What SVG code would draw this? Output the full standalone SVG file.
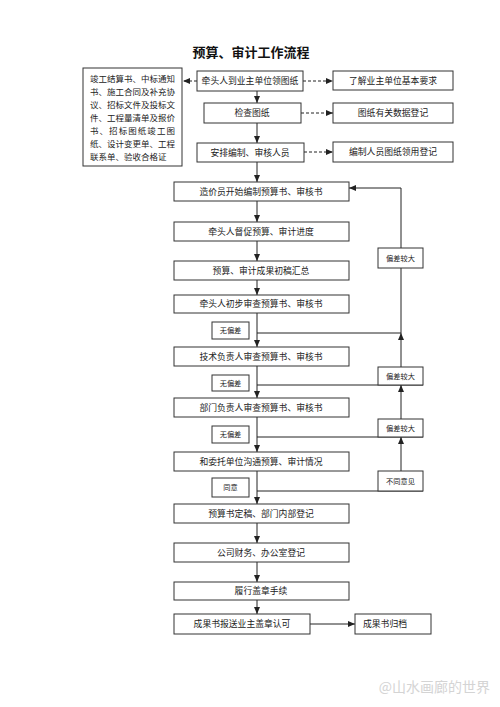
<svg xmlns="http://www.w3.org/2000/svg" width="500" height="707" viewBox="0 0 500 707">
<style>
.b{fill:#fff;stroke:#333;stroke-width:1}
.t{font-family:"Noto Sans CJK SC","Noto Sans",sans-serif;font-size:8.8px;fill:#222;text-anchor:middle}
.s{font-family:"Noto Sans CJK SC","Noto Sans",sans-serif;font-size:7.2px;fill:#222;text-anchor:middle}
.l{font-family:"Noto Sans CJK SC","Noto Sans",sans-serif;font-size:8.5px;fill:#222}
.c{fill:none;stroke:#222;stroke-width:1}
.d{fill:none;stroke:#222;stroke-width:1;stroke-dasharray:3,2}
</style>
<defs>
<marker id="a" markerUnits="userSpaceOnUse" markerWidth="7" markerHeight="6" refX="7" refY="3" orient="auto"><path d="M0,0 L7,3 L0,6 z" fill="#222"/></marker>
</defs>
<rect width="500" height="707" fill="#fff"/>
<text x="251" y="57" style="font-family:'Noto Sans CJK SC',sans-serif;font-size:13px;font-weight:bold;text-anchor:middle;fill:#111">预算、审计工作流程</text>
<g id="connectors">
<path class="d" d="M197,81 H183" marker-end="url(#a)"/>
<path class="d" d="M303,81 H333" marker-end="url(#a)"/>
<path class="d" d="M301,113 H333" marker-end="url(#a)"/>
<path class="d" d="M304,152 H333" marker-end="url(#a)"/>
<path class="c" d="M257,91 V103" marker-end="url(#a)"/>
<path class="c" d="M257,123 V143" marker-end="url(#a)"/>
<path class="c" d="M257,162 V182" marker-end="url(#a)"/>
<path class="c" d="M257,201 V222" marker-end="url(#a)"/>
<path class="c" d="M257,241 V261" marker-end="url(#a)"/>
<path class="c" d="M257,280 V295" marker-end="url(#a)"/>
<path class="c" d="M257,313 V347" marker-end="url(#a)"/>
<path class="c" d="M257,366 V398" marker-end="url(#a)"/>
<path class="c" d="M257,417 V452" marker-end="url(#a)"/>
<path class="c" d="M257,471 V504" marker-end="url(#a)"/>
<path class="c" d="M257,523 V543" marker-end="url(#a)"/>
<path class="c" d="M257,562 V582" marker-end="url(#a)"/>
<path class="c" d="M257,600 V614" marker-end="url(#a)"/>
<path class="c" d="M310,624 H355" marker-end="url(#a)"/>
<path class="c" d="M257,333 H401 V188 H349" marker-end="url(#a)"/>
<path class="c" d="M257,385 H423"/>
<path class="c" d="M401,367 V333" marker-end="url(#a)"/>
<path class="c" d="M257,437 H423"/>
<path class="c" d="M401,419 V385" marker-end="url(#a)"/>
<path class="c" d="M257,491 H423"/>
<path class="c" d="M401,471 V437" marker-end="url(#a)"/>
</g>
<g id="docs"><rect class="b" x="83" y="68" width="99" height="98"/>
<text class="l" x="90" y="82" textLength="85" lengthAdjust="spacing">竣工结算书、中标通知</text>
<text class="l" x="90" y="95" textLength="85" lengthAdjust="spacing">书、施工合同及补充协</text>
<text class="l" x="90" y="108" textLength="85" lengthAdjust="spacing">议、招标文件及投标文</text>
<text class="l" x="90" y="121" textLength="85" lengthAdjust="spacing">件、工程量清单及报价</text>
<text class="l" x="90" y="134" textLength="85" lengthAdjust="spacing">书、招标图纸竣工图</text>
<text class="l" x="90" y="147" textLength="85" lengthAdjust="spacing">纸、设计变更单、工程</text>
<text class="l" x="90" y="160">联系单、验收合格证</text></g>
<g id="n1"><rect class="b" x="197" y="71" width="106" height="20"/><text class="t" x="250" y="84">牵头人到业主单位领图纸</text></g>
<g id="r1"><rect class="b" x="333" y="71" width="120" height="19"/><text class="t" x="393" y="84">了解业主单位基本要求</text></g>
<g id="n2"><rect class="b" x="204" y="103" width="97" height="20"/><text class="t" x="252" y="116">检查图纸</text></g>
<g id="r2"><rect class="b" x="333" y="103" width="120" height="20"/><text class="t" x="393" y="116">图纸有关数据登记</text></g>
<g id="n3"><rect class="b" x="197" y="143" width="107" height="19"/><text class="t" x="250" y="156">安排编制、审核人员</text></g>
<g id="r3"><rect class="b" x="333" y="142" width="120" height="20"/><text class="t" x="393" y="155">编制人员图纸领用登记</text></g>
<g id="m1"><rect class="b" x="174" y="182" width="175" height="19"/><text class="t" x="261" y="195">造价员开始编制预算书、审核书</text></g>
<g id="m2"><rect class="b" x="174" y="222" width="175" height="19"/><text class="t" x="261" y="235">牵头人督促预算、审计进度</text></g>
<g id="m3"><rect class="b" x="174" y="261" width="175" height="19"/><text class="t" x="261" y="274">预算、审计成果初稿汇总</text></g>
<g id="m4"><rect class="b" x="174" y="295" width="175" height="18"/><text class="t" x="261" y="307">牵头人初步审查预算书、审核书</text></g>
<g id="m5"><rect class="b" x="174" y="347" width="175" height="19"/><text class="t" x="261" y="360">技术负责人审查预算书、审核书</text></g>
<g id="m6"><rect class="b" x="174" y="398" width="175" height="19"/><text class="t" x="261" y="411">部门负责人审查预算书、审核书</text></g>
<g id="m7"><rect class="b" x="174" y="452" width="175" height="19"/><text class="t" x="261" y="465">和委托单位沟通预算、审计情况</text></g>
<g id="m8"><rect class="b" x="174" y="504" width="175" height="19"/><text class="t" x="261" y="517">预算书定稿、部门内部登记</text></g>
<g id="m9"><rect class="b" x="174" y="543" width="175" height="19"/><text class="t" x="261" y="556">公司财务、办公室登记</text></g>
<g id="m10"><rect class="b" x="174" y="582" width="175" height="18"/><text class="t" x="261" y="594">履行盖章手续</text></g>
<g id="m11"><rect class="b" x="174" y="614" width="136" height="20"/><text class="t" x="242" y="627">成果书报送业主盖章认可</text></g>
<g id="m12"><rect class="b" x="355" y="614" width="76" height="20"/><text class="t" x="385" y="627">成果书归档</text></g>
<g id="k1"><rect class="b" x="378" y="248" width="45" height="20"/><text class="s" x="400.5" y="261">偏差较大</text></g>
<g id="k2"><rect class="b" x="378" y="367" width="45" height="18"/><text class="s" x="400.5" y="379">偏差较大</text></g>
<g id="k3"><rect class="b" x="378" y="419" width="45" height="18"/><text class="s" x="400.5" y="431">偏差较大</text></g>
<g id="k4"><rect class="b" x="378" y="471" width="45" height="20"/><text class="s" x="400.5" y="484">不同意见</text></g>
<g id="w1"><rect class="b" x="212" y="322" width="37" height="17"/><text class="s" x="230.5" y="333">无偏差</text></g>
<g id="w2"><rect class="b" x="212" y="375" width="37" height="16"/><text class="s" x="230.5" y="386">无偏差</text></g>
<g id="w3"><rect class="b" x="212" y="426" width="37" height="17"/><text class="s" x="230.5" y="437">无偏差</text></g>
<g id="w4"><rect class="b" x="212" y="478" width="37" height="19"/><text class="s" x="230.5" y="490">同意</text></g>
<text x="490" y="692" style="font-family:'Noto Sans CJK SC',sans-serif;font-size:14px;fill:#d4d4d4;text-anchor:end">@山水画廊的世界</text>
</svg>
